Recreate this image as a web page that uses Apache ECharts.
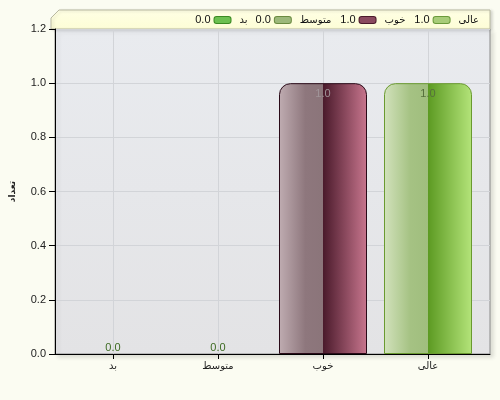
<!DOCTYPE html>
<html>
<head>
<meta charset="utf-8">
<script src="https://cdn.jsdelivr.net/npm/echarts@6/dist/echarts.min.js"></script>
<style>
html,body{margin:0;padding:0;background:#fbfcf2;}
#c{width:500px;height:400px;}
</style>
</head>
<body>
<div id="c"></div>
<script>
var categories = ['بد', 'متوسط', 'خوب', 'عالی'];
var values = [0, 0, 1, 1];
var yTicks = [0, 0.2, 0.4, 0.6, 0.8, 1.0, 1.2];
var yAxisName = 'تعداد';

var FONT = '"Liberation Sans", "DejaVu Sans", sans-serif';

var barStyles = [
  { stops: [['#9fd88a', 0], ['#5fb845', 0.5], ['#3f9a2a', 0.5], ['#7fd060', 1]], border: '#3a8a22', label: '#3d6b22', sw: '#6cc050', swb: '#3a8a22' },
  { stops: [['#c8d8b0', 0], ['#a0b880', 0.5], ['#7a9a50', 0.5], ['#b0cc88', 1]], border: '#6a8a40', label: '#3d6b22', sw: '#9cb87a', swb: '#6a8a40' },
  { stops: [['#bfacb1', 0], ['#8e777d', 0.3], ['#8b757a', 0.5], ['#4a1a2b', 0.5], ['#c8768e', 1]], border: '#2a0a18', label: '#a09498', sw: '#8a4a5e', swb: '#4a1a2a' },
  { stops: [['#d2e2bc', 0], ['#a5c283', 0.3], ['#a0be7e', 0.5], ['#5c9a22', 0.5], ['#b4e47a', 1]], border: '#6a9a30', label: '#56703c', sw: '#a8cc78', swb: '#6a9a3a' }
];

function grad(stops) {
  return new echarts.graphic.LinearGradient(0, 0, 1, 0, stops.map(function (s) { return { offset: s[1], color: s[0] }; }));
}

var rich = {
  v: { fontSize: 11, color: '#111', fontFamily: FONT, padding: [0, 4, 0, 0] },
  n: { fontSize: 10, color: '#111', fontFamily: FONT, padding: [0, 0, 0, 9] }
};
categories.forEach(function (c, i) {
  rich['s' + i] = { width: 16, height: 6, backgroundColor: barStyles[i].sw, borderColor: barStyles[i].swb, borderWidth: 1, borderRadius: 2 };
});

var series = categories.map(function (cat, i) {
  var data = categories.map(function (c, j) {
    if (j !== i) return '-';
    var v = values[i];
    return {
      value: v,
      label: v > 0 ? { position: 'insideTop', distance: 5 } : { position: 'top', distance: 1 }
    };
  });
  return {
    name: cat,
    type: 'bar',
    xAxisIndex: 1,
    yAxisIndex: 1,
    stack: 'all',
    barWidth: 88,
    clip: false,
    data: data,
    itemStyle: {
      color: grad(barStyles[i].stops),
      borderColor: barStyles[i].border,
      borderWidth: values[i] > 0 ? 1 : 0,
      borderRadius: [11, 11, 0, 0]
    },
    label: {
      show: true,
      color: barStyles[i].label,
      fontSize: 11,
      fontFamily: FONT,
      formatter: function (p) { return Number(p.value).toFixed(1); }
    }
  };
});

var chart = echarts.init(document.getElementById('c'), null, { renderer: 'canvas' });
chart.setOption({
  backgroundColor: '#fbfcf2',
  animation: false,
  textStyle: { fontFamily: FONT },
  graphic: [{
    type: 'polygon',
    z: 0,
    shape: { points: [[51, 29], [51, 18], [59, 10], [490, 10], [490, 29]] },
    style: {
      fill: new echarts.graphic.LinearGradient(0, 0, 0, 1, [{ offset: 0, color: '#ffffe4' }, { offset: 1, color: '#fdfdd6' }]),
      stroke: '#b8b8a0',
      lineWidth: 1,
      shadowBlur: 3,
      shadowOffsetX: 2,
      shadowOffsetY: 1,
      shadowColor: 'rgba(0,0,0,0.15)'
    }
  }],
  legend: {
    right: 16,
    top: 9,
    itemWidth: 0,
    itemHeight: 0,
    itemGap: 3,
    selectedMode: false,
    data: categories,
    formatter: function (name) {
      var i = categories.indexOf(name);
      return '{v|' + values[i].toFixed(1) + '}{s' + i + '|}{n|' + name + '}';
    },
    textStyle: { rich: rich }
  },
  grid: [
    {
      left: 52, right: 10, top: 29, bottom: 46,
      show: true,
      backgroundColor: new echarts.graphic.LinearGradient(0, 0, 0, 1, [{ offset: 0, color: '#e9ebef' }, { offset: 1, color: '#e3e3e5' }]),
      borderColor: '#8a8a8a',
      borderWidth: 1,
      shadowBlur: 4,
      shadowOffsetX: 3,
      shadowOffsetY: 3,
      shadowColor: 'rgba(0,0,0,0.12)'
    },
    { left: 113, right: 72, top: 29, bottom: 46 }
  ],
  xAxis: [
    {
      gridIndex: 0, type: 'value', min: 0, max: 1,
      axisLine: { show: true, lineStyle: { color: '#000', width: 1 } },
      axisTick: { show: false }, axisLabel: { show: false }, splitLine: { show: false }
    },
    {
      gridIndex: 1, type: 'category', boundaryGap: false, data: categories,
      axisLine: { show: false },
      axisTick: { show: true, length: 5, lineStyle: { color: '#000' } },
      axisLabel: { margin: 7, color: '#222', fontSize: 10, fontFamily: FONT },
      splitLine: { show: true, lineStyle: { color: '#d2d4d8', width: 1 } }
    }
  ],
  yAxis: [
    {
      gridIndex: 0, type: 'value', min: yTicks[0], max: yTicks[yTicks.length - 1], interval: 0.2,
      name: yAxisName, nameLocation: 'middle', nameGap: 38, nameRotate: 90,
      nameTextStyle: { fontSize: 9, fontWeight: 'bold', color: '#222', fontFamily: FONT },
      axisLine: { show: true, lineStyle: { color: '#000', width: 1 } },
      axisTick: { show: true, length: 6, lineStyle: { color: '#000' } },
      axisLabel: { margin: 9, color: '#222', fontSize: 11, fontFamily: FONT, formatter: function (v) { return v.toFixed(1); } },
      splitLine: { show: true, lineStyle: { color: '#d2d4d8', width: 1 } }
    },
    {
      gridIndex: 1, type: 'value', min: yTicks[0], max: yTicks[yTicks.length - 1], show: false
    }
  ],
  series: series
});
</script>
</body>
</html>
